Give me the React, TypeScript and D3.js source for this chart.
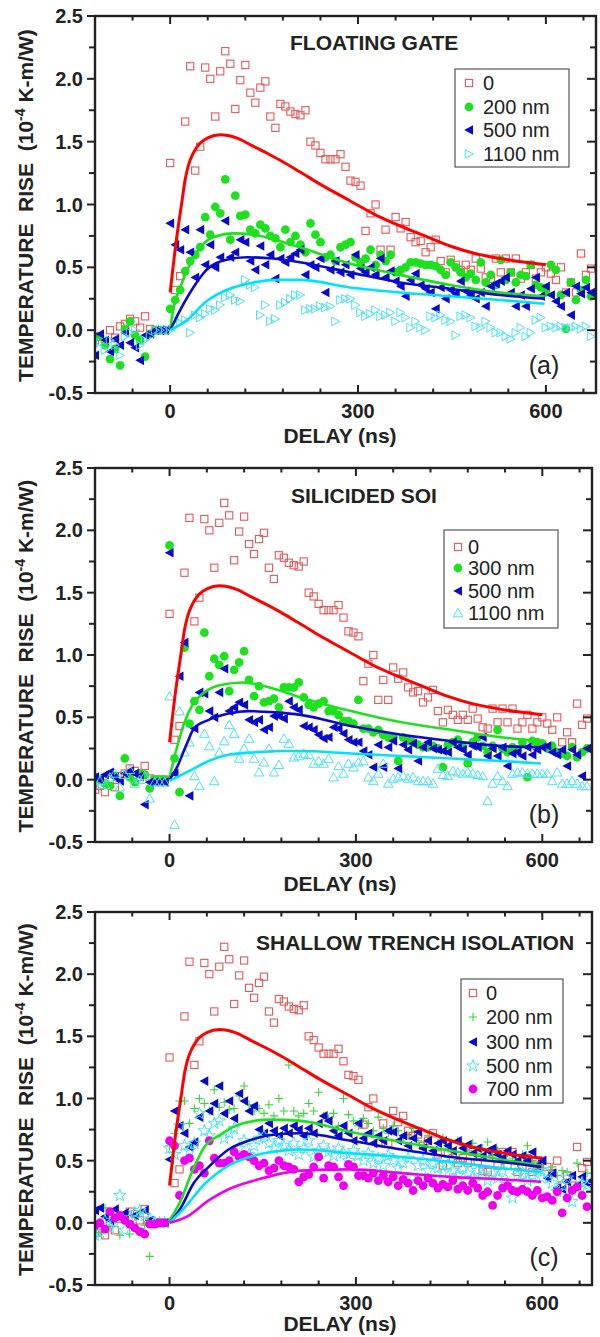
import React from "react";
import * as d3 from "d3";

// Delay grid (ns) shared by every measured series
const DELAYS = [
  -120, -112, -104, -96, -88, -80, -72, -64, -56, -48,
  -40, -32, -24, -16, -8, 0, 8, 16, 24, 32,
  40, 48, 56, 64, 72, 80, 88, 96, 104, 112,
  120, 128, 136, 144, 152, 160, 168, 176, 184, 192,
  200, 208, 216, 224, 232, 240, 248, 256, 264, 272,
  280, 288, 296, 304, 312, 320, 328, 336, 344, 352,
  360, 368, 376, 384, 392, 400, 408, 416, 424, 432,
  440, 448, 456, 464, 472, 480, 488, 496, 504, 512,
  520, 528, 536, 544, 552, 560, 568, 576, 584, 592,
  600, 608, 616, 624, 632, 640, 648, 656, 664, 672,
];

// Reference (0 nm) – identical in all three panels
const REF_0 = [
  -0.08, -0.05, -0.10, 0.00, -0.06, 0.03, 0.05, 0.09, 0.07, 0.02,
  0.11, 0.01, 0.00, 0.00, 0.00, 1.33, 0.32, 0.43, 1.66, 2.10,
  1.27, 1.46, 2.09, 2.00, 1.70, 2.06, 2.22, 2.12, 1.76, 1.99,
  2.11, 1.89, 1.81, 1.93, 1.98, 1.70, 1.61, 1.80, 1.78, 1.74,
  1.72, 1.71, 1.75, 1.50, 1.47, 1.41, 1.36, 1.36, 1.36, 1.40,
  1.30, 1.19, 1.18, 1.15, 0.79, 0.93, 1.00, 0.64, 0.80, 0.64,
  0.90, 0.81, 0.86, 0.74, 0.70, 0.71, 0.62, 0.66, 0.72, 0.55,
  0.46, 0.56, 0.52, 0.48, 0.52, 0.48, 0.57, 0.49, 0.42, 0.41,
  0.57, 0.46, 0.57, 0.46, 0.57, 0.41, 0.46, 0.52, 0.41, 0.46,
  0.50, 0.45, 0.40, 0.50, 0.30, 0.38, 0.30, 0.61, 0.44, 0.49,
];

// (a) Floating gate
const FG_200 = [
  -0.06, -0.05, -0.12, -0.23, -0.15, -0.28, 0.01, 0.07, -0.04, -0.08,
  -0.21, -0.03, 0.00, 0.00, 0.00, 0.17, 0.24, 0.32, 0.47, 0.55,
  0.60, 0.66, 0.90, 0.76, 0.98, 0.93, 1.20, 0.72, 1.07, 0.91,
  0.92, 0.80, 0.77, 0.84, 0.81, 0.75, 0.73, 0.66, 0.80, 0.70,
  0.75, 0.68, 0.62, 0.85, 0.76, 0.70, 0.58, 0.60, 0.55, 0.66,
  0.68, 0.70, 0.58, 0.54, 0.57, 0.64, 0.52, 0.60, 0.55, 0.60,
  0.46, 0.48, 0.50, 0.54, 0.54, 0.53, 0.52, 0.52, 0.51, 0.48,
  0.44, 0.54, 0.50, 0.46, 0.42, 0.45, 0.40, 0.54, 0.38, 0.44,
  0.36, 0.56, 0.40, 0.46, 0.38, 0.44, 0.43, 0.52, 0.36, 0.34,
  0.30, 0.52, 0.48, 0.28, 0.01, 0.38, 0.24, 0.32, 0.40, 0.27,
];
const FG_500 = [
  -0.20, -0.03, -0.08, -0.17, -0.07, -0.12, -0.02, -0.10, -0.14, -0.24,
  -0.04, -0.03, 0.00, 0.00, 0.00, 0.85, 0.68, 0.64, 0.80, 0.62,
  0.42, 0.80, 0.52, 0.68, 0.50, 0.58, 0.87, 0.58, 0.62, 0.72,
  0.70, 0.55, 0.48, 0.67, 0.52, 0.60, 0.41, 0.57, 0.54, 0.58,
  0.61, 0.64, 0.44, 0.52, 0.50, 0.57, 0.30, 0.48, 0.55, 0.46,
  0.52, 0.44, 0.60, 0.49, 0.46, 0.50, 0.44, 0.57, 0.42, 0.47,
  0.39, 0.35, 0.27, 0.40, 0.45, 0.36, 0.33, 0.30, 0.17, 0.34,
  0.25, 0.32, 0.29, 0.39, 0.31, 0.28, 0.25, 0.30, 0.19, 0.35,
  0.37, 0.39, 0.42, 0.30, 0.19, 0.28, 0.19, 0.33, 0.42, 0.27,
  0.35, 0.28, 0.23, 0.19, 0.30, 0.12, 0.35, 0.29, 0.34, 0.30,
];
const FG_1100 = [
  -0.12, -0.10, -0.16, -0.08, -0.12, -0.20, -0.05, -0.02, 0.00, -0.12,
  -0.08, -0.05, 0.00, 0.00, 0.00, 0.00, 0.08, 0.06, 0.08, -0.02,
  0.12, 0.10, 0.13, 0.17, 0.16, 0.20, 0.26, 0.28, 0.24, 0.23,
  0.40, 0.36, 0.34, 0.12, 0.20, 0.07, 0.09, 0.20, 0.22, 0.25,
  0.28, 0.28, 0.16, 0.17, 0.17, 0.19, 0.18, 0.19, 0.07, 0.24,
  0.25, 0.25, 0.20, 0.14, 0.11, 0.13, 0.16, 0.11, 0.12, 0.14,
  0.07, 0.14, 0.10, 0.02, 0.07, 0.02, 0.00, 0.11, 0.10, 0.12,
  0.08, 0.07, -0.04, 0.11, 0.12, 0.10, 0.03, 0.02, 0.07, 0.02,
  -0.02, -0.02, -0.05, -0.07, -0.02, 0.02, -0.05, -0.02, 0.08, 0.10,
  0.02, 0.03, 0.02, 0.03, 0.02, 0.02, 0.03, 0.01, 0.03, -0.05,
];

// (b) Silicided SOI
const SOI_300 = [
  0.02, 0.00, -0.03, -0.05, 0.03, -0.13, 0.17, 0.02, -0.02, 0.05,
  0.04, -0.07, 0.00, 0.00, 0.00, 1.88, 0.17, -0.10, 1.06, 0.45,
  0.63, 0.56, 1.18, 0.83, 0.97, 0.92, 0.99, 0.71, 0.88, 0.94,
  1.03, 0.80, 0.67, 0.75, 0.62, 0.63, 0.65, 0.58, 0.74, 0.74,
  0.74, 0.78, 0.66, 0.60, 0.58, 0.61, 0.63, 0.55, 0.55, 0.52,
  0.47, 0.47, 0.45, 0.64, 0.41, 0.41, 0.38, 0.40, 0.36, 0.34,
  0.34, 0.15, 0.34, 0.31, 0.30, 0.28, 0.26, 0.26, 0.27, 0.25,
  0.10, 0.28, 0.30, 0.32, 0.26, 0.13, 0.30, 0.34, 0.27, 0.22,
  0.27, 0.40, 0.25, 0.22, 0.26, 0.24, 0.30, 0.02, 0.31, 0.30,
  0.29, 0.25, 0.27, 0.22, 0.21, 0.19, 0.26, 0.18, 0.22, 0.25,
];
const SOI_500 = [
  0.02, 0.00, 0.04, 0.06, 0.02, -0.01, 0.05, 0.07, 0.05, 0.03,
  -0.20, -0.02, -0.02, -0.02, -0.02, 1.82, 0.05, 0.83, 1.10, -0.13,
  0.41, 0.70, 0.69, 0.55, 0.50, 0.70, 0.89, 0.55, 0.58, 0.62,
  0.60, 0.48, 0.46, 0.48, 0.40, 0.42, 0.51, 0.51, 0.49, 0.63,
  0.58, 0.56, 0.43, 0.42, 0.40, 0.36, 0.33, 0.34, 0.42, 0.41,
  0.37, 0.32, 0.30, 0.30, 0.23, 0.20, 0.10, 0.28, 0.10, 0.26,
  0.31, 0.09, 0.28, 0.24, 0.29, 0.15, 0.26, 0.30, 0.25, 0.24,
  0.23, 0.22, 0.30, 0.26, 0.24, 0.20, 0.27, 0.26, 0.34, 0.19,
  0.25, 0.19, 0.26, 0.11, 0.21, 0.22, 0.19, 0.26, 0.20, 0.24,
  0.26, 0.27, 0.22, 0.20, 0.24, 0.11, 0.24, 0.20, 0.03, 0.25,
];
const SOI_1100 = [
  -0.04, -0.01, -0.04, 0.02, 0.05, -0.06, 0.04, 0.08, -0.03, 0.00,
  0.03, -0.15, -0.02, -0.02, -0.02, 0.67, -0.36, 0.55, 0.22, 0.30,
  0.03, -0.05, 0.37, 0.27, -0.01, 0.22, 0.31, 0.44, 0.37, 0.17,
  0.25, 0.33, 0.17, 0.06, 0.14, 0.25, 0.06, 0.12, 0.33, 0.29,
  0.18, 0.19, 0.21, 0.20, 0.13, 0.15, 0.13, 0.17, 0.02, 0.11,
  0.05, 0.13, 0.10, 0.14, 0.15, 0.02, -0.01, 0.05, 0.13, -0.03,
  0.01, 0.02, 0.03, 0.01, 0.02, -0.01, -0.01, -0.01, -0.03, 0.09,
  0.04, 0.03, 0.07, 0.06, 0.05, 0.06, 0.05, 0.04, 0.03, -0.17,
  -0.03, 0.03, -0.01, -0.05, 0.05, 0.06, 0.06, 0.05, 0.05, 0.05,
  0.05, 0.05, -0.01, 0.06, -0.03, -0.03, -0.01, -0.03, -0.05, -0.05,
];

// (c) Shallow trench isolation
const STI_200 = [
  -0.05, -0.08, 0.12, -0.04, 0.02, -0.10, 0.06, -0.09, 0.05, 0.08,
  -0.02, -0.27, 0.00, 0.00, 0.00, 0.62, 0.72, 0.98, 0.98, 0.80,
  0.92, 1.00, 0.96, 0.90, 1.07, 0.93, 0.97, 0.91, 0.92, 1.02,
  1.10, 0.95, 0.90, 0.92, 0.88, 0.95, 0.86, 1.00, 0.90, 1.27,
  0.90, 0.86, 0.88, 0.96, 0.90, 1.05, 0.86, 0.84, 0.88, 0.78,
  1.00, 0.87, 0.82, 0.78, 0.84, 0.80, 0.74, 0.85, 0.76, 0.72,
  0.78, 0.74, 0.68, 0.70, 0.76, 0.66, 0.62, 0.70, 0.58, 0.64,
  0.68, 0.60, 0.57, 0.66, 0.62, 0.58, 0.64, 0.56, 0.60, 0.65,
  0.54, 0.58, 0.50, 0.56, 0.52, 0.48, 0.55, 0.62, 0.50, 0.46,
  0.44, 0.36, 0.45, 0.38, 0.42, 0.41, 0.38, 0.48, 0.36, 0.40,
];
const STI_300 = [
  0.10, 0.12, 0.05, 0.02, 0.11, 0.04, 0.08, -0.02, 0.06, -0.08,
  0.10, 0.02, 0.00, 0.00, 0.00, 0.51, 0.90, 0.78, 0.72, 0.61,
  0.65, 0.85, 1.14, 0.90, 0.96, 1.10, 0.88, 0.98, 0.84, 1.04,
  0.98, 0.90, 0.94, 0.75, 0.72, 0.80, 0.74, 0.70, 0.76, 0.72,
  0.78, 0.75, 0.70, 0.76, 0.72, 0.80, 0.86, 0.82, 0.74, 0.70,
  0.78, 0.72, 0.66, 0.80, 0.68, 0.72, 0.64, 0.70, 0.66, 0.74,
  0.73, 0.66, 0.70, 0.62, 0.68, 0.73, 0.60, 0.66, 0.58, 0.64,
  0.66, 0.62, 0.58, 0.66, 0.60, 0.63, 0.56, 0.60, 0.54, 0.58,
  0.60, 0.55, 0.52, 0.58, 0.55, 0.50, 0.54, 0.50, 0.57, 0.46,
  0.50, 0.36, 0.40, 0.28, 0.27, 0.33, 0.38, 0.30, 0.37, 0.32,
];
const STI_500 = [
  -0.10, -0.08, 0.02, -0.04, 0.00, 0.22, -0.06, 0.04, 0.08, 0.10,
  0.06, 0.03, 0.00, 0.00, 0.00, 0.60, 0.55, 0.78, 0.62, 0.58,
  0.64, 0.88, 0.74, 0.70, 0.80, 0.82, 0.68, 0.72, 0.76, 0.60,
  0.66, 0.55, 0.62, 0.68, 0.70, 0.64, 0.60, 0.66, 0.62, 0.58,
  0.64, 0.55, 0.60, 0.66, 0.53, 0.58, 0.62, 0.57, 0.54, 0.60,
  0.56, 0.50, 0.58, 0.54, 0.50, 0.56, 0.48, 0.52, 0.46, 0.54,
  0.50, 0.44, 0.48, 0.52, 0.30, 0.46, 0.50, 0.42, 0.48, 0.44,
  0.40, 0.46, 0.42, 0.38, 0.44, 0.40, 0.36, 0.42, 0.38, 0.34,
  0.40, 0.36, 0.42, 0.32, 0.20, 0.38, 0.40, 0.34, 0.38, 0.42,
  0.36, 0.40, 0.32, 0.25, 0.30, 0.36, 0.17, 0.28, 0.32, 0.30,
];
const STI_700 = [
  -0.02, 0.00, -0.05, 0.09, 0.04, 0.06, 0.02, -0.01, -0.04, -0.07,
  -0.09, -0.01, -0.01, 0.00, 0.00, 0.66, 0.62, 0.22, 0.50, 0.52,
  0.43, 0.46, 0.40, 0.66, 0.52, 0.48, 0.48, 0.50, 0.57, 0.53,
  0.55, 0.53, 0.50, 0.46, 0.48, 0.42, 0.44, 0.50, 0.46, 0.45,
  0.43, 0.33, 0.37, 0.39, 0.45, 0.53, 0.36, 0.46, 0.45, 0.37,
  0.30, 0.47, 0.45, 0.38, 0.38, 0.36, 0.40, 0.34, 0.38, 0.33,
  0.37, 0.30, 0.35, 0.32, 0.26, 0.34, 0.30, 0.36, 0.32, 0.28,
  0.31, 0.29, 0.34, 0.27, 0.30, 0.26, 0.32, 0.28, 0.22, 0.25,
  0.14, 0.22, 0.28, 0.30, 0.26, 0.25, 0.27, 0.25, 0.22, 0.26,
  0.20, 0.21, 0.18, 0.25, 0.08, 0.20, 0.26, 0.29, 0.22, 0.13,
];

// Fitted (model) curves: [delay ns, rise]
type Pt = [number, number];
const FIT_0: Pt[] = [
  [0, 0.3], [10, 0.72], [19, 1.03], [24, 1.2], [29, 1.31], [37, 1.41], [48, 1.49],
  [60, 1.53], [80, 1.555], [106, 1.53], [130, 1.47], [154, 1.41], [180, 1.34],
  [207, 1.26], [240, 1.16], [287, 1.03], [327, 0.92], [367, 0.83], [407, 0.75],
  [447, 0.67], [487, 0.61], [527, 0.57], [567, 0.54], [600, 0.52],
];
const FIT_FG_200: Pt[] = [
  [0, 0.0], [4, 0.14], [16, 0.34], [32, 0.53], [48, 0.66], [69, 0.74], [101, 0.77],
  [133, 0.76], [181, 0.7], [207, 0.66], [287, 0.53], [367, 0.44], [447, 0.36],
  [527, 0.3], [598, 0.27],
];
const FIT_FG_500: Pt[] = [
  [0, 0.0], [16, 0.16], [37, 0.34], [58, 0.48], [90, 0.56], [122, 0.58], [165, 0.57],
  [207, 0.54], [287, 0.46], [367, 0.38], [447, 0.33], [527, 0.28], [598, 0.25],
];
const FIT_FG_1100: Pt[] = [
  [0, 0.0], [27, 0.08], [58, 0.23], [90, 0.32], [133, 0.38], [176, 0.4], [207, 0.4],
  [287, 0.34], [367, 0.3], [447, 0.27], [527, 0.24], [598, 0.21],
];
const FIT_SOI_300: Pt[] = [
  [0, 0.02], [12, 0.26], [24, 0.46], [37, 0.6], [56, 0.7], [82, 0.76], [118, 0.78],
  [161, 0.74], [211, 0.66], [292, 0.55], [373, 0.46], [453, 0.4], [534, 0.34], [598, 0.31],
];
const FIT_SOI_500: Pt[] = [
  [0, 0.0], [12, 0.1], [28, 0.29], [39, 0.41], [63, 0.48], [95, 0.53], [127, 0.55],
  [170, 0.54], [211, 0.52], [292, 0.43], [373, 0.36], [453, 0.31], [534, 0.27], [598, 0.26],
];
const FIT_SOI_1100: Pt[] = [
  [0, -0.01], [28, 0.06], [63, 0.15], [95, 0.2], [138, 0.22], [180, 0.23], [211, 0.23],
  [292, 0.21], [373, 0.19], [453, 0.17], [534, 0.15], [598, 0.13],
];
const FIT_STI_200: Pt[] = [
  [0, 0.02], [18, 0.18], [37, 0.42], [56, 0.61], [82, 0.71], [118, 0.8], [161, 0.83],
  [211, 0.82], [292, 0.73], [373, 0.65], [453, 0.58], [534, 0.51], [598, 0.46],
];
const FIT_STI_300: Pt[] = [
  [0, 0.0], [18, 0.12], [39, 0.32], [63, 0.45], [95, 0.59], [127, 0.66], [170, 0.71],
  [211, 0.72], [292, 0.66], [373, 0.59], [453, 0.53], [534, 0.49], [598, 0.45],
];
const FIT_STI_500: Pt[] = [
  [0, 0.0], [24, 0.12], [56, 0.31], [95, 0.46], [143, 0.55], [180, 0.58], [211, 0.59],
  [292, 0.56], [373, 0.53], [453, 0.49], [534, 0.44], [598, 0.41],
];
const FIT_STI_700: Pt[] = [
  [0, 0.0], [28, 0.05], [63, 0.18], [95, 0.27], [143, 0.35], [183, 0.4], [211, 0.42],
  [292, 0.43], [373, 0.4], [453, 0.37], [534, 0.35], [598, 0.33],
];

const X_MAJOR = [0, 300, 600];
const Y_MAJOR = [-0.5, 0.0, 0.5, 1.0, 1.5, 2.0, 2.5];

const C_RED_PT = "#e45a5a";
const C_RED = "#ff0000";
const C_GREEN = "#1fe01f";
const C_GREEN_PLUS = "#3fd23f";
const C_BLUE = "#0a0acb";
const C_CYAN = "#00e3f5";
const C_CYAN_PT = "#4fe0f0";
const C_MAG = "#ee00ee";

type Shape = "square" | "circle" | "triLeft" | "triRightOpen" | "triUpOpen" | "plus" | "starOpen";

const starPath = d3.symbol(d3.symbolStar, 48)() || "";

function Marker({ shape, color, x, y }: { shape: Shape; color: string; x: number; y: number }) {
  switch (shape) {
    case "square":
      return <rect x={x - 3.6} y={y - 3.6} width={7.2} height={7.2} fill="none" stroke={color} strokeWidth={1.1} />;
    case "circle":
      return <circle cx={x} cy={y} r={4.4} fill={color} />;
    case "triLeft":
      return <path d={`M${x - 4.8},${y}L${x + 4},${y - 4.8}L${x + 4},${y + 4.8}Z`} fill={color} />;
    case "triRightOpen":
      return <path d={`M${x + 4.3},${y}L${x - 3.8},${y - 4.3}L${x - 3.8},${y + 4.3}Z`} fill="none" stroke={color} strokeWidth={1} />;
    case "triUpOpen":
      return <path d={`M${x},${y - 4.6}L${x + 4.8},${y + 3.8}L${x - 4.8},${y + 3.8}Z`} fill="none" stroke={color} strokeWidth={1} />;
    case "plus":
      return <path d={`M${x - 4.2},${y}H${x + 4.2}M${x},${y - 4.2}V${y + 4.2}`} stroke={color} strokeWidth={1.1} />;
    case "starOpen":
      return <path d={starPath} transform={`translate(${x},${y})`} fill="none" stroke={color} strokeWidth={1} />;
  }
  return null;
}

type Series = { name: string; values: number[]; shape: Shape; color: string };
type Fit = { values: Pt[]; color: string; width: number };

type PanelCfg = {
  id: string;
  top: number;
  bottom: number;
  right: number;
  title: string;
  titleX: number;
  titleY: number;
  letter: string;
  xTitleDy: number;
  legend: { x: number; y: number; w: number; h: number; symX: number; textX: number; rows: number[] };
  series: Series[];
  fits: Fit[];
};

const LEFT = 95;
const FONT = "'Liberation Sans', Arial, Helvetica, sans-serif";

const PANELS: PanelCfg[] = [
  {
    id: "a", top: 16, bottom: 393, right: 596,
    title: "FLOATING GATE", titleX: 290, titleY: 50, letter: "(a)", xTitleDy: 50,
    legend: { x: 455, y: 69, w: 114, h: 98, symX: 14, textX: 28, rows: [14, 38, 61, 85] },
    series: [
      { name: "0", values: REF_0, shape: "square", color: C_RED_PT },
      { name: "200 nm", values: FG_200, shape: "circle", color: C_GREEN },
      { name: "500 nm", values: FG_500, shape: "triLeft", color: C_BLUE },
      { name: "1100 nm", values: FG_1100, shape: "triRightOpen", color: C_CYAN_PT },
    ],
    fits: [
      { values: FIT_0, color: C_RED, width: 3 },
      { values: FIT_FG_200, color: C_GREEN, width: 2.6 },
      { values: FIT_FG_500, color: C_BLUE, width: 2.6 },
      { values: FIT_FG_1100, color: C_CYAN, width: 2.6 },
    ],
  },
  {
    id: "b", top: 468, bottom: 842, right: 592,
    title: "SILICIDED SOI", titleX: 291, titleY: 503, letter: "(b)", xTitleDy: 49,
    legend: { x: 444, y: 530, w: 114, h: 98, symX: 14, textX: 24, rows: [17, 38, 61, 83] },
    series: [
      { name: "0", values: REF_0, shape: "square", color: C_RED_PT },
      { name: "300 nm", values: SOI_300, shape: "circle", color: C_GREEN },
      { name: "500 nm", values: SOI_500, shape: "triLeft", color: C_BLUE },
      { name: "1100 nm", values: SOI_1100, shape: "triUpOpen", color: C_CYAN_PT },
    ],
    fits: [
      { values: FIT_0, color: C_RED, width: 3 },
      { values: FIT_SOI_300, color: C_GREEN, width: 2.6 },
      { values: FIT_SOI_500, color: C_BLUE, width: 2.6 },
      { values: FIT_SOI_1100, color: C_CYAN, width: 2.6 },
    ],
  },
  {
    id: "c", top: 912, bottom: 1285, right: 592,
    title: "SHALLOW TRENCH ISOLATION", titleX: 256, titleY: 950, letter: "(c)", xTitleDy: 46,
    legend: { x: 461, y: 979, w: 102, h: 124, symX: 12, textX: 25, rows: [14, 38, 63, 87, 110] },
    series: [
      { name: "0", values: REF_0, shape: "square", color: C_RED_PT },
      { name: "200 nm", values: STI_200, shape: "plus", color: C_GREEN_PLUS },
      { name: "300 nm", values: STI_300, shape: "triLeft", color: C_BLUE },
      { name: "500 nm", values: STI_500, shape: "starOpen", color: C_CYAN_PT },
      { name: "700 nm", values: STI_700, shape: "circle", color: C_MAG },
    ],
    fits: [
      { values: FIT_0, color: C_RED, width: 3 },
      { values: FIT_STI_200, color: C_GREEN, width: 2.6 },
      { values: FIT_STI_300, color: C_BLUE, width: 2.6 },
      { values: FIT_STI_500, color: C_CYAN, width: 2.6 },
      { values: FIT_STI_700, color: C_MAG, width: 2.6 },
    ],
  },
];

function Panel({ cfg }: { cfg: PanelCfg }) {
  const { top, bottom, right } = cfg;
  const x = d3.scaleLinear().domain([-120, 680]).range([LEFT, right]);
  const y = d3.scaleLinear().domain([-0.5, 2.5]).range([bottom, top]);
  const line = d3
    .line<Pt>()
    .x((d) => x(d[0]))
    .y((d) => y(d[1]))
    .curve(d3.curveMonotoneX);
  const xMinor = d3.range(-60, 680, 60);
  const yMinor = d3.range(-0.25, 2.5, 0.5);
  const clipId = `clip-${cfg.id}`;
  const midY = (top + bottom) / 2;
  const lg = cfg.legend;

  return (
    <g>
      <defs>
        <clipPath id={clipId}>
          <rect x={LEFT} y={top} width={right - LEFT} height={bottom - top} />
        </clipPath>
      </defs>

      <g clipPath={`url(#${clipId})`}>
        {cfg.series.map((s) => (
          <g key={s.name}>
            {s.values.map((v, i) => (
              <Marker key={i} shape={s.shape} color={s.color} x={x(DELAYS[i])} y={y(v)} />
            ))}
          </g>
        ))}
        {cfg.fits.map((f, i) => (
          <path key={i} d={line(f.values) || ""} fill="none" stroke={f.color} strokeWidth={f.width} strokeLinejoin="round" />
        ))}
      </g>

      {/* ticks */}
      {X_MAJOR.map((t) => (
        <g key={`xm${t}`}>
          <line x1={x(t)} x2={x(t)} y1={bottom} y2={bottom - 8} stroke="#222" strokeWidth={2} />
          <line x1={x(t)} x2={x(t)} y1={top} y2={top + 8} stroke="#222" strokeWidth={2} />
          <text x={x(t)} y={bottom + 25} textAnchor="middle" fontSize={20} fontWeight="bold" fill="#222" fontFamily={FONT}>
            {t}
          </text>
        </g>
      ))}
      {xMinor
        .filter((t) => !X_MAJOR.includes(t))
        .map((t) => (
          <g key={`xn${t}`}>
            <line x1={x(t)} x2={x(t)} y1={bottom} y2={bottom - 4.5} stroke="#222" strokeWidth={2} />
            <line x1={x(t)} x2={x(t)} y1={top} y2={top + 4.5} stroke="#222" strokeWidth={2} />
          </g>
        ))}
      {Y_MAJOR.map((t) => (
        <g key={`ym${t}`}>
          <line x1={LEFT} x2={LEFT - 8} y1={y(t)} y2={y(t)} stroke="#222" strokeWidth={2} />
          <line x1={right} x2={right - 9} y1={y(t)} y2={y(t)} stroke="#222" strokeWidth={2} />
          <text x={83} y={y(t) + 7} textAnchor="end" fontSize={20} fontWeight="bold" fill="#222" fontFamily={FONT}>
            {t.toFixed(1)}
          </text>
        </g>
      ))}
      {yMinor.map((t) => (
        <g key={`yn${t}`}>
          <line x1={LEFT} x2={LEFT - 6} y1={y(t)} y2={y(t)} stroke="#222" strokeWidth={2} />
          <line x1={right} x2={right - 6} y1={y(t)} y2={y(t)} stroke="#222" strokeWidth={2} />
        </g>
      ))}

      {/* frame */}
      <rect x={LEFT} y={top} width={right - LEFT} height={bottom - top} fill="none" stroke="#222" strokeWidth={2.4} />

      {/* title */}
      <text x={cfg.titleX} y={cfg.titleY} fontSize={21} fontWeight="bold" fill="#222" fontFamily={FONT}>
        {cfg.title}
      </text>

      {/* panel letter */}
      <text x={544} y={bottom - 19} textAnchor="middle" fontSize={25} fill="#222" fontFamily={FONT}>
        {cfg.letter}
      </text>

      {/* legend */}
      <rect x={lg.x} y={lg.y} width={lg.w} height={lg.h} fill="white" stroke="#555" strokeWidth={1.2} />
      {cfg.series.map((s, i) => (
        <g key={`lg${s.name}`}>
          <Marker shape={s.shape} color={s.color} x={lg.x + lg.symX} y={lg.y + lg.rows[i]} />
          <text x={lg.x + lg.textX} y={lg.y + lg.rows[i] + 7} fontSize={20} fill="#222" fontFamily={FONT}>
            {s.name}
          </text>
        </g>
      ))}

      {/* axis titles */}
      <text x={340} y={bottom + cfg.xTitleDy} textAnchor="middle" fontSize={21} fontWeight="bold" fill="#222" fontFamily={FONT}>
        DELAY (ns)
      </text>
      <text
        transform={`translate(33,${midY + 1}) rotate(-90)`}
        textAnchor="middle"
        fontSize={21}
        fontWeight="bold"
        fill="#222"
        fontFamily={FONT}
        style={{ whiteSpace: "pre" }}
      >
        {"TEMPERATURE  RISE  (10"}
        <tspan fontSize={14} dy={-8}>
          -4
        </tspan>
        <tspan dy={8}>{" K-m/W)"}</tspan>
      </text>
    </g>
  );
}

export default function App() {
  return (
    <svg
      width={600}
      height={1337}
      viewBox="0 0 600 1337"
      style={{ position: "absolute", left: 0, top: 0, background: "white" }}
    >
      <rect x={0} y={0} width={600} height={1337} fill="white" />
      {PANELS.map((p) => (
        <Panel key={p.id} cfg={p} />
      ))}
    </svg>
  );
}
